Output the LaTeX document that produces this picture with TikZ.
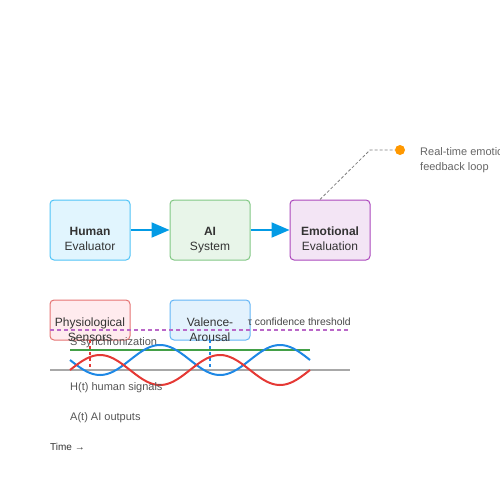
\documentclass[tikz,border=0pt]{standalone}
\usepackage{fontspec}
\setmainfont{Liberation Sans}
\usetikzlibrary{arrows.meta}
\definecolor{ink}{HTML}{333333}
\definecolor{notegray}{HTML}{555555}
\definecolor{loopgray}{HTML}{666666}
\definecolor{flowblue}{HTML}{039BE5}
\definecolor{humfill}{HTML}{E1F5FE}\definecolor{humline}{HTML}{4FC3F7}
\definecolor{aifill}{HTML}{E8F5E9}\definecolor{ailine}{HTML}{81C784}
\definecolor{emofill}{HTML}{F3E5F5}\definecolor{emoline}{HTML}{AB47BC}
\definecolor{physfill}{HTML}{FFEBEE}\definecolor{physline}{HTML}{E57373}
\definecolor{valfill}{HTML}{E3F2FD}\definecolor{valline}{HTML}{64B5F6}
\definecolor{thrpurple}{HTML}{BA68C8}
\definecolor{syncgreen}{HTML}{43A047}
\definecolor{sigred}{HTML}{E53935}
\definecolor{sigblue}{HTML}{1E88E5}
\definecolor{axisgray}{HTML}{A8A8A8}
\definecolor{dotorange}{HTML}{FF9800}
\begin{document}
\begin{tikzpicture}[x=1pt,y=-1pt,
    box/.style={draw,rounded corners=4pt,line width=1pt,minimum width=80pt,minimum height=60pt,inner sep=0pt},
    flow/.style={draw=flowblue,line width=2pt,-{Triangle[length=18pt,width=15pt]}},
    boxtext/.style={anchor=base,inner sep=0pt,text=ink,font=\fontsize{12}{14}\selectfont},
    note/.style={anchor=base west,inner sep=0pt,text=notegray,font=\fontsize{11}{13}\selectfont}]
    \path[use as bounding box,clip] (0,0) rectangle (500,500);
    % main chain
    \foreach \n/\x/\c/\a/\b in {human/90/hum/Human/Evaluator,ai/210/ai/AI/System,emo/330/emo/Emotional/Evaluation}{
        \node[box,fill=\c fill,draw=\c line] (\n) at (\x,230) {};
        \node[boxtext,font=\fontsize{12}{14}\selectfont\bfseries] (\n-a) at (\x,235) {\a};
        \node[boxtext] (\n-b) at (\x,250) {\b};
    }
    \draw[flow] (human) -- (ai);
    \draw[flow] (ai) -- (emo);
    \node[circle,fill=dotorange,inner sep=0pt,minimum size=10pt] (dot) at (400,150) {};
    \coordinate (bend) at (370,150);
    \draw[gray,dash pattern=on 3pt off 2pt,line width=0.8pt] ([xshift=-10pt]emo.north) -- (bend) -- (dot);
    \node[note,text=loopgray] (loop-a) at (420,155) {Real-time emotional};
    \node[note,text=loopgray] (loop-b) at (420,170) {feedback loop};
    % lower boxes
    \node[box,minimum height=40pt,fill=physfill,draw=physline] (phys) at (90,320) {};
    \node[box,minimum height=40pt,fill=valfill,draw=valline] (val) at (210,320) {};
    \coordinate (thr-a) at (50,330);
    \coordinate (thr-b) at (350,330);
    \draw[thrpurple,line width=1.5pt,dash pattern=on 4pt off 3pt] (thr-a) -- (thr-b);
    \node[boxtext] (phys-a) at (90,326) {Physiological};
    \node[boxtext] (phys-b) at (90,341) {Sensors};
    \node[boxtext] (val-a) at (210,326) {Valence-};
    \node[boxtext] (val-b) at (210,341) {Arousal};
    \node[note,anchor=base east,text=ink!90,font=\fontsize{10.4}{12}\selectfont] (thr) at (351,325) {τ confidence threshold};
    % signals
    \node[note] (sync) at (70,345) {S synchronization};
    \draw[syncgreen,line width=2pt] (70,350) -- (310,350);
    \draw[axisgray,line width=2pt] (50,370) -- (350,370);
    \draw[sigred,line width=1.5pt,dashed] (90,340) -- (90,370);
    \draw[sigblue,line width=1.5pt,dashed] (210,340) -- (210,370);
    \draw[sigblue,line width=2pt,domain=70:310,samples=120] plot (\x,{360+15*sin(3*(\x-70))});
    \draw[sigred,line width=2pt,domain=70:310,samples=120] plot (\x,{370-15*sin(3*(\x-70))});
    \node[note] (hsig) at (70,390) {H(t) human signals};
    \node[note] (asig) at (70,420) {A(t) AI outputs};
    \node[note,text=ink,font=\fontsize{10}{12}\selectfont] (time) at (50,450) {Time →};
\end{tikzpicture}
\end{document}
